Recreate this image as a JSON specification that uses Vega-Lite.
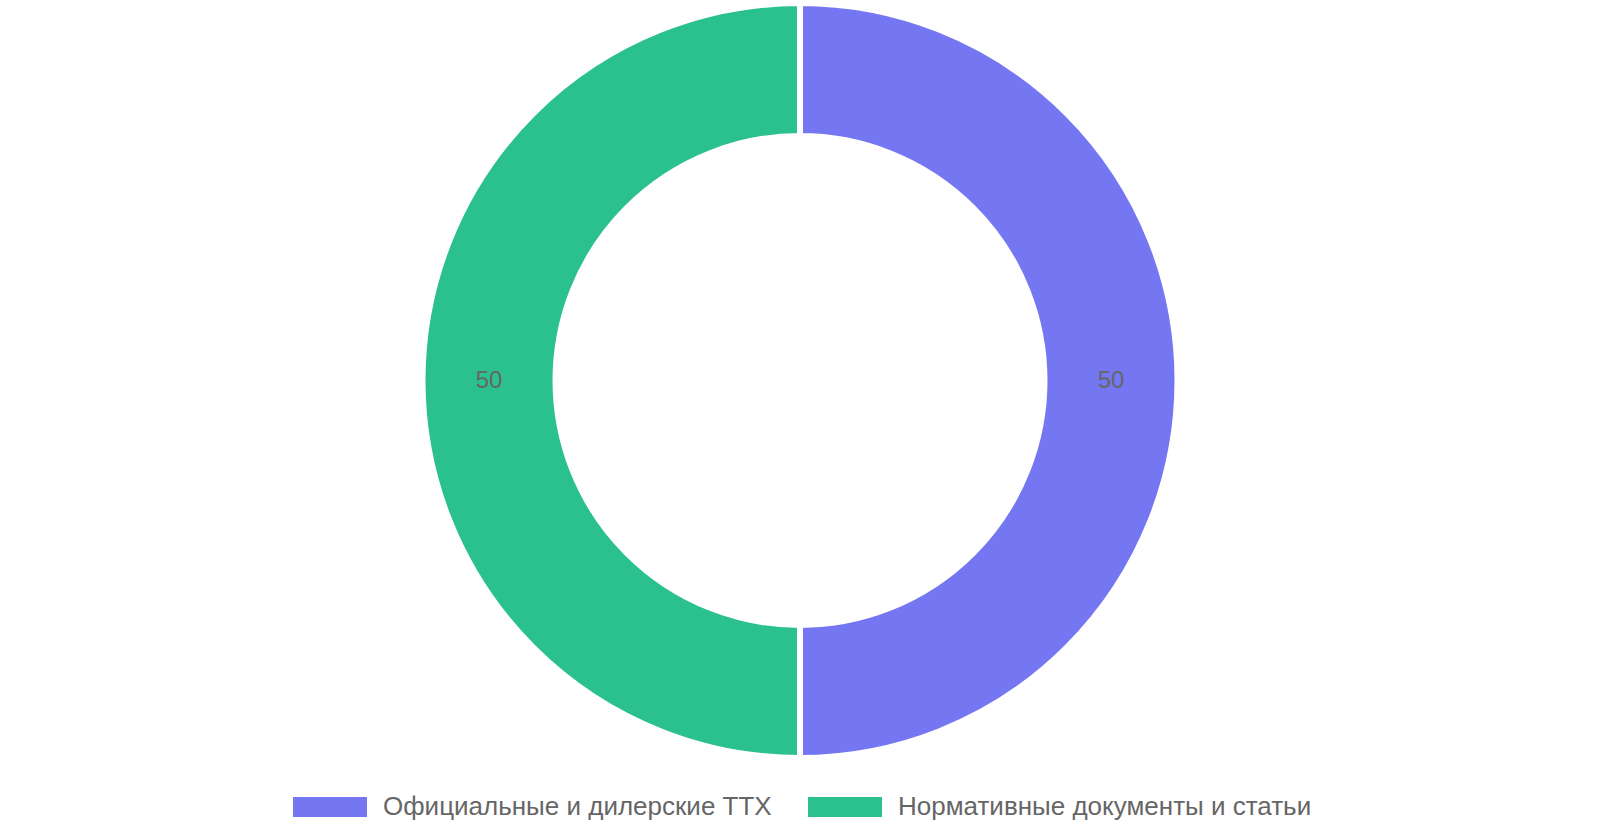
{
  "$schema": "https://vega.github.io/schema/vega-lite/v6.json",
  "width": 1600,
  "height": 761,
  "autosize": "none",
  "padding": {"left": 0, "top": 0, "right": 0, "bottom": 79},
  "background": "white",
  "config": {"view": {"stroke": null}, "font": "Liberation Sans"},
  "data": {
    "values": [
      {"source": "Официальные и дилерские ТТХ", "share": 50, "idx": 1},
      {"source": "Нормативные документы и статьи", "share": 50, "idx": 2}
    ]
  },
  "encoding": {
    "theta": {"field": "share", "type": "quantitative", "stack": true},
    "order": {"field": "idx", "type": "quantitative"}
  },
  "layer": [
    {
      "mark": {
        "type": "arc",
        "outerRadius": 377.5,
        "innerRadius": 244.5,
        "stroke": "white",
        "strokeWidth": 6
      },
      "encoding": {
        "color": {
          "field": "source",
          "type": "nominal",
          "sort": null,
          "scale": {
            "domain": ["Официальные и дилерские ТТХ", "Нормативные документы и статьи"],
            "range": ["#7476F2", "#2AC18F"]
          },
          "legend": {
            "title": null,
            "orient": "none",
            "direction": "horizontal",
            "legendX": 293,
            "legendY": 770,
            "symbolType": "M-1,-0.27H1V0.27H-1Z",
            "symbolSize": 5476,
            "symbolStrokeWidth": 0,
            "symbolOpacity": 1,
            "labelFontSize": 26,
            "labelColor": "#666666",
            "labelOffset": 16,
            "labelLimit": 800,
            "columnPadding": 36
          }
        }
      }
    },
    {
      "mark": {
        "type": "text",
        "radius": 311,
        "fontSize": 24,
        "color": "#666666",
        "baseline": "middle",
        "align": "center"
      },
      "encoding": {
        "text": {"field": "share", "type": "quantitative"}
      }
    }
  ]
}
